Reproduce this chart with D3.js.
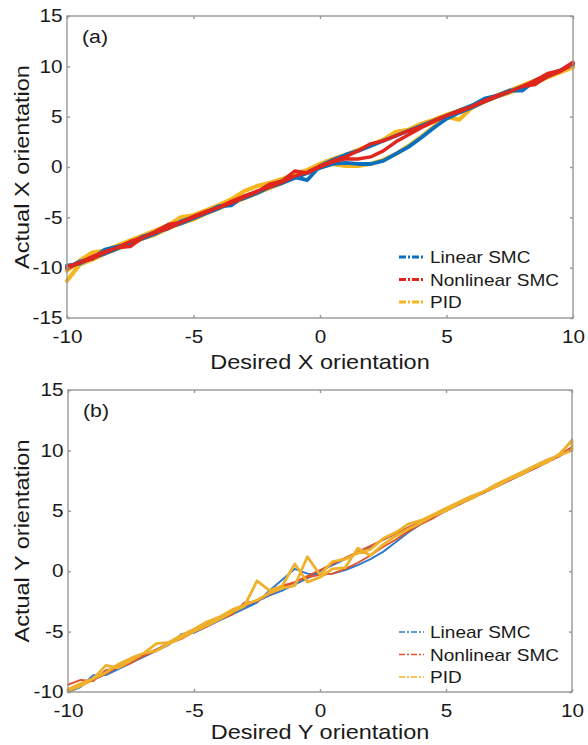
<!DOCTYPE html>
<html>
<head>
<meta charset="utf-8">
<script src="https://cdn.jsdelivr.net/npm/d3@7"></script>
<style>
  body { margin: 0; background: #fff; }
  text { font-family: Arial, "Liberation Sans", sans-serif; fill: #1a1a1a; }
</style>
</head>
<body>
<div id="chart"></div>
<script>
// desired orientation, sampled every 0.5 (shared by both panels)
const desired = [
  -10, -9.5, -9, -8.5, -8, -7.5, -7, -6.5, -6, -5.5,
  -5, -4.5, -4, -3.5, -3, -2.5, -2, -1.5, -1, -0.5,
  0, 0.5, 1, 1.5, 2, 2.5, 3, 3.5, 4, 4.5,
  5, 5.5, 6, 6.5, 7, 7.5, 8, 8.5, 9, 9.5,
  10
];
const seriesNames = ["Linear SMC", "Nonlinear SMC", "PID"];
const xTicks = [-10, -5, 0, 5, 10];
const yTicksA = [-15, -10, -5, 0, 5, 10, 15];
const yTicksB = [-10, -5, 0, 5, 10, 15];

// panel (a): actual X orientation, first sweep and return sweep (read in desired order)
const linearX1 = [
  -9.8, -9.6, -9.0, -8.6, -8.1, -7.5, -7.1, -6.6, -6.0, -5.6,
  -5.1, -4.6, -4.1, -3.5, -3.1, -2.6, -2.0, -1.6, -1.1, -0.6,
  -0.1, 0.3, 0.4, 0.3, 0.3, 0.6, 1.3, 2.0, 2.9, 3.9,
  4.8, 5.4, 5.9, 6.5, 7.0, 7.5, 8.0, 8.4, 9.0, 9.6,
  10.3
];
const linearX2 = [
  -10.0, -9.4, -9.1, -8.2, -7.9, -7.6, -6.9, -6.5, -6.1, -5.4,
  -5.0, -4.5, -3.9, -3.8, -2.9, -2.5, -1.9, -1.4, -1.0, -1.3,
  0.1, 0.7, 1.2, 1.6, 2.1, 2.6, 3.1, 3.6, 4.1, 4.6,
  5.1, 5.6, 6.1, 6.8, 7.1, 7.6, 7.6, 8.6, 9.1, 9.6,
  10.2
];
const nonlinearX1 = [
  -9.9, -9.5, -9.1, -8.5, -8.0, -7.9, -7.0, -6.5, -6.1, -5.5,
  -5.0, -4.5, -4.0, -3.6, -3.0, -2.5, -1.7, -1.4, -0.4, -0.6,
  0.0, 0.5, 0.8, 0.8, 1.0, 1.6, 2.5, 3.2, 3.9, 4.5,
  5.1, 5.5, 6.0, 6.5, 7.0, 7.5, 8.0, 8.2, 9.0, 9.5,
  10.2
];
const nonlinearX2 = [
  -10.1, -9.5, -8.9, -8.4, -8.0, -7.4, -7.0, -6.4, -5.7, -5.5,
  -4.9, -4.4, -4.0, -3.4, -2.9, -2.4, -2.0, -1.5, -0.9, -0.5,
  0.1, 0.6, 1.0, 1.6, 2.3, 2.6, 3.1, 3.6, 4.0, 4.6,
  5.1, 5.6, 6.0, 6.6, 7.1, 7.5, 8.0, 8.6, 9.3, 9.6,
  10.4
];
const pidX1 = [
  -11.3, -9.7, -9.2, -8.6, -8.1, -7.7, -7.1, -6.7, -6.1, -5.6,
  -5.2, -4.6, -4.1, -3.6, -3.1, -2.6, -2.1, -1.6, -1.0, -0.5,
  0.0, 0.3, 0.1, 0.1, 0.3, 0.7, 1.3, 2.1, 3.0, 4.0,
  5.0, 4.7, 5.9, 6.5, 7.0, 7.4, 7.9, 8.4, 8.9, 9.4,
  9.9
];
const pidX2 = [
  -10.3, -9.3, -8.5, -8.3, -7.8, -7.3, -6.8, -6.3, -5.8, -5.0,
  -4.8, -4.3, -3.8, -3.2, -2.4, -1.9, -1.6, -1.2, -0.7, -0.3,
  0.3, 0.8, 1.2, 1.7, 2.2, 2.7, 3.5, 3.7, 4.3, 4.7,
  5.2, 5.6, 6.1, 6.6, 7.1, 7.6, 8.1, 8.6, 9.1, 9.5,
  10.0
];

// panel (b): actual Y orientation
const linearY1 = [
  -10.0, -9.6, -8.6, -8.6, -8.1, -7.6, -7.1, -6.6, -6.1, -5.2,
  -5.1, -4.6, -4.1, -3.6, -3.1, -2.6, -1.6, -0.7, 0.2, -0.2,
  -0.3, -0.2, 0.1, 0.5, 1.0, 1.6, 2.4, 3.2, 3.9, 4.5,
  5.0, 5.5, 6.0, 6.5, 7.0, 7.5, 8.0, 8.5, 9.0, 9.6,
  10.9
];
const linearY2 = [
  -9.9, -9.4, -9.0, -8.5, -8.0, -7.5, -7.0, -6.5, -6.0, -5.5,
  -5.0, -4.5, -4.0, -3.5, -3.0, -2.5, -2.0, -1.6, -1.1, -0.6,
  0.0, 0.5, 1.0, 1.5, 2.0, 2.6, 3.1, 3.6, 4.1, 4.6,
  5.1, 5.6, 6.1, 6.6, 7.1, 7.6, 8.1, 8.6, 9.1, 9.6,
  10.2
];
const nonlinearY1 = [
  -9.4, -9.0, -9.1, -8.2, -8.0, -7.6, -7.0, -6.6, -6.0, -5.6,
  -5.0, -4.6, -4.0, -3.6, -2.6, -2.5, -1.8, -1.2, -0.9, -0.5,
  -0.3, -0.2, 0.2, 0.7, 1.3, 2.0, 2.6, 3.3, 3.9, 4.4,
  5.0, 5.5, 6.0, 6.5, 7.0, 7.5, 8.0, 8.5, 9.0, 9.5,
  10.2
];
const nonlinearY2 = [
  -10.0, -9.5, -9.0, -8.5, -7.9, -7.4, -6.9, -6.5, -5.9, -5.4,
  -4.9, -4.4, -3.9, -3.4, -2.9, -2.4, -1.9, -1.4, -0.9, -0.4,
  0.1, 0.6, 1.1, 1.6, 2.1, 2.6, 3.1, 3.6, 4.1, 4.6,
  5.1, 5.6, 6.1, 6.6, 7.1, 7.6, 8.1, 8.6, 9.1, 9.6,
  10.3
];
const pidY1 = [
  -9.9, -9.5, -8.9, -7.8, -8.0, -7.4, -6.8, -6.6, -6.0, -5.5,
  -5.0, -4.5, -4.0, -3.4, -2.9, -0.8, -1.6, -1.2, 0.6, -0.9,
  -0.5, 0.2, 0.3, 1.9, 1.3, 2.2, 2.9, 3.5, 4.0, 4.6,
  5.0, 5.6, 6.0, 6.6, 7.0, 7.6, 8.0, 8.6, 9.0, 9.7,
  10.8
];
const pidY2 = [
  -9.8, -9.3, -8.9, -8.4, -7.7, -7.2, -6.8, -6.0, -5.9, -5.3,
  -4.8, -4.2, -3.8, -3.2, -2.8, -2.4, -1.8, -1.4, -1.2, 1.2,
  -0.3, 0.8, 1.0, 1.5, 1.8, 2.7, 3.2, 3.9, 4.2, 4.7,
  5.2, 5.7, 6.2, 6.6, 7.2, 7.7, 8.2, 8.7, 9.2, 9.6,
  10.0
];

const width = 588;
const height = 745;
const axisGrey = "#9a9696";

// both panels share the same layout recipe, only sizes and styles differ
const panels = [
  {
    tag: "(a)", left: 67, right: 573, top: 16, bottom: 318, titleGap: 51,
    yDomain: [-15, 15], yTicks: yTicksA,
    xTitle: "Desired X orientation", yTitle: "Actual X orientation",
    legendTop: 257, legendDash: "7,2,2,2", legendWidth: 3,
    series: [
      { name: seriesNames[2], colour: "#f6b61c", width: 4.2, a: pidX1, b: pidX2 },
      { name: seriesNames[0], colour: "#0a70bd", width: 3.8, a: linearX1, b: linearX2 },
      { name: seriesNames[1], colour: "#e0261c", width: 3.4, a: nonlinearX1, b: nonlinearX2 }
    ]
  },
  {
    tag: "(b)", left: 68, right: 572, top: 390, bottom: 692, titleGap: 47,
    yDomain: [-10, 15], yTicks: yTicksB,
    xTitle: "Desired Y orientation", yTitle: "Actual Y orientation",
    legendTop: 632, legendDash: "6,2,2,2", legendWidth: 1.6,
    series: [
      { name: seriesNames[0], colour: "#2f78cc", width: 1.9, a: linearY1, b: linearY2 },
      { name: seriesNames[1], colour: "#e0522a", width: 1.9, a: nonlinearY1, b: nonlinearY2 },
      { name: seriesNames[2], colour: "#efb12c", width: 2.8, a: pidY1, b: pidY2 }
    ]
  }
];

const svg = d3
  .select("#chart")
  .append("svg")
  .attr("width", width)
  .attr("height", height);

// the original text is a little wider than Arial, so stretch it sideways
const stretched = (g, x, y, str, size, anchor, rotate) =>
  g.append("text")
    .attr("transform", `translate(${x},${y})${rotate ? " rotate(-90)" : ""} scale(1.12,1)`)
    .attr("font-size", size)
    .attr("text-anchor", anchor)
    .text(str);

const colourOf = (p, name) => p.series.find(s => s.name === name);

panels.forEach(p => {
  const g = svg.append("g");

  const x = d3.scaleLinear().domain([-10, 10]).range([p.left, p.right]);
  const y = d3.scaleLinear().domain(p.yDomain).range([p.bottom, p.top]);

  // traces: go out along the first sweep, come back along the second
  const line = d3.line().x(d => x(d[0])).y(d => y(d[1]));
  p.series.forEach(s => {
    const out = desired.map((d, i) => [d, s.a[i]]);
    const back = desired.map((d, i) => [d, s.b[i]]).reverse();
    g.append("path")
      .datum([...out, ...back])
      .attr("fill", "none")
      .attr("stroke", s.colour)
      .attr("stroke-width", s.width)
      .attr("stroke-linejoin", "round")
      .attr("stroke-linecap", "round")
      .attr("d", line);
  });

  // frame
  g.append("rect")
    .attr("x", p.left)
    .attr("y", p.top)
    .attr("width", p.right - p.left)
    .attr("height", p.bottom - p.top)
    .attr("fill", "none")
    .attr("stroke", axisGrey)
    .attr("stroke-width", 1.4);

  const fmt = d => String(d); // plain hyphen minus like the original

  const bottom = g.append("g")
    .attr("transform", `translate(0,${p.bottom})`)
    .call(d3.axisBottom(x).tickValues(xTicks).tickSize(-3).tickPadding(12).tickFormat(fmt));
  const left = g.append("g")
    .attr("transform", `translate(${p.left},0)`)
    .call(d3.axisLeft(y).tickValues(p.yTicks).tickSize(-3).tickPadding(4).tickFormat(fmt));
  // mirrored ticks on top and right, no labels
  const top = g.append("g")
    .attr("transform", `translate(0,${p.top})`)
    .call(d3.axisTop(x).tickValues(xTicks).tickSize(-3).tickFormat(""));
  const right = g.append("g")
    .attr("transform", `translate(${p.right},0)`)
    .call(d3.axisRight(y).tickValues(p.yTicks).tickSize(-3).tickFormat(""));

  [bottom, left, top, right].forEach(a => {
    a.select(".domain").remove();
    a.selectAll("line").attr("stroke", axisGrey).attr("stroke-width", 1.4);
    a.selectAll("text")
      .attr("font-size", 18)
      .attr("font-family", "Arial, 'Liberation Sans', sans-serif")
      .attr("fill", "#1a1a1a")
      .attr("transform", "scale(1.15,1)");
  });

  // titles
  stretched(g, (p.left + p.right) / 2, p.bottom + p.titleGap, p.xTitle, 21, "middle", false);
  stretched(g, 29, (p.top + p.bottom) / 2, p.yTitle, 21, "middle", true);
  stretched(g, p.left + 15, p.top + 27, p.tag, 19, "start", false);

  // legend
  const legend = g.append("g").attr("transform", `translate(399,${p.legendTop})`);
  seriesNames.forEach((name, i) => {
    const row = legend.append("g").attr("transform", `translate(0,${i * 22.5})`);
    row.append("line")
      .attr("x1", 0)
      .attr("x2", 25)
      .attr("stroke", colourOf(p, name).colour)
      .attr("stroke-width", p.legendWidth)
      .attr("stroke-dasharray", p.legendDash);
    stretched(row, 31, 6, name, 17, "start", false);
  });
});
</script>
</body>
</html>
